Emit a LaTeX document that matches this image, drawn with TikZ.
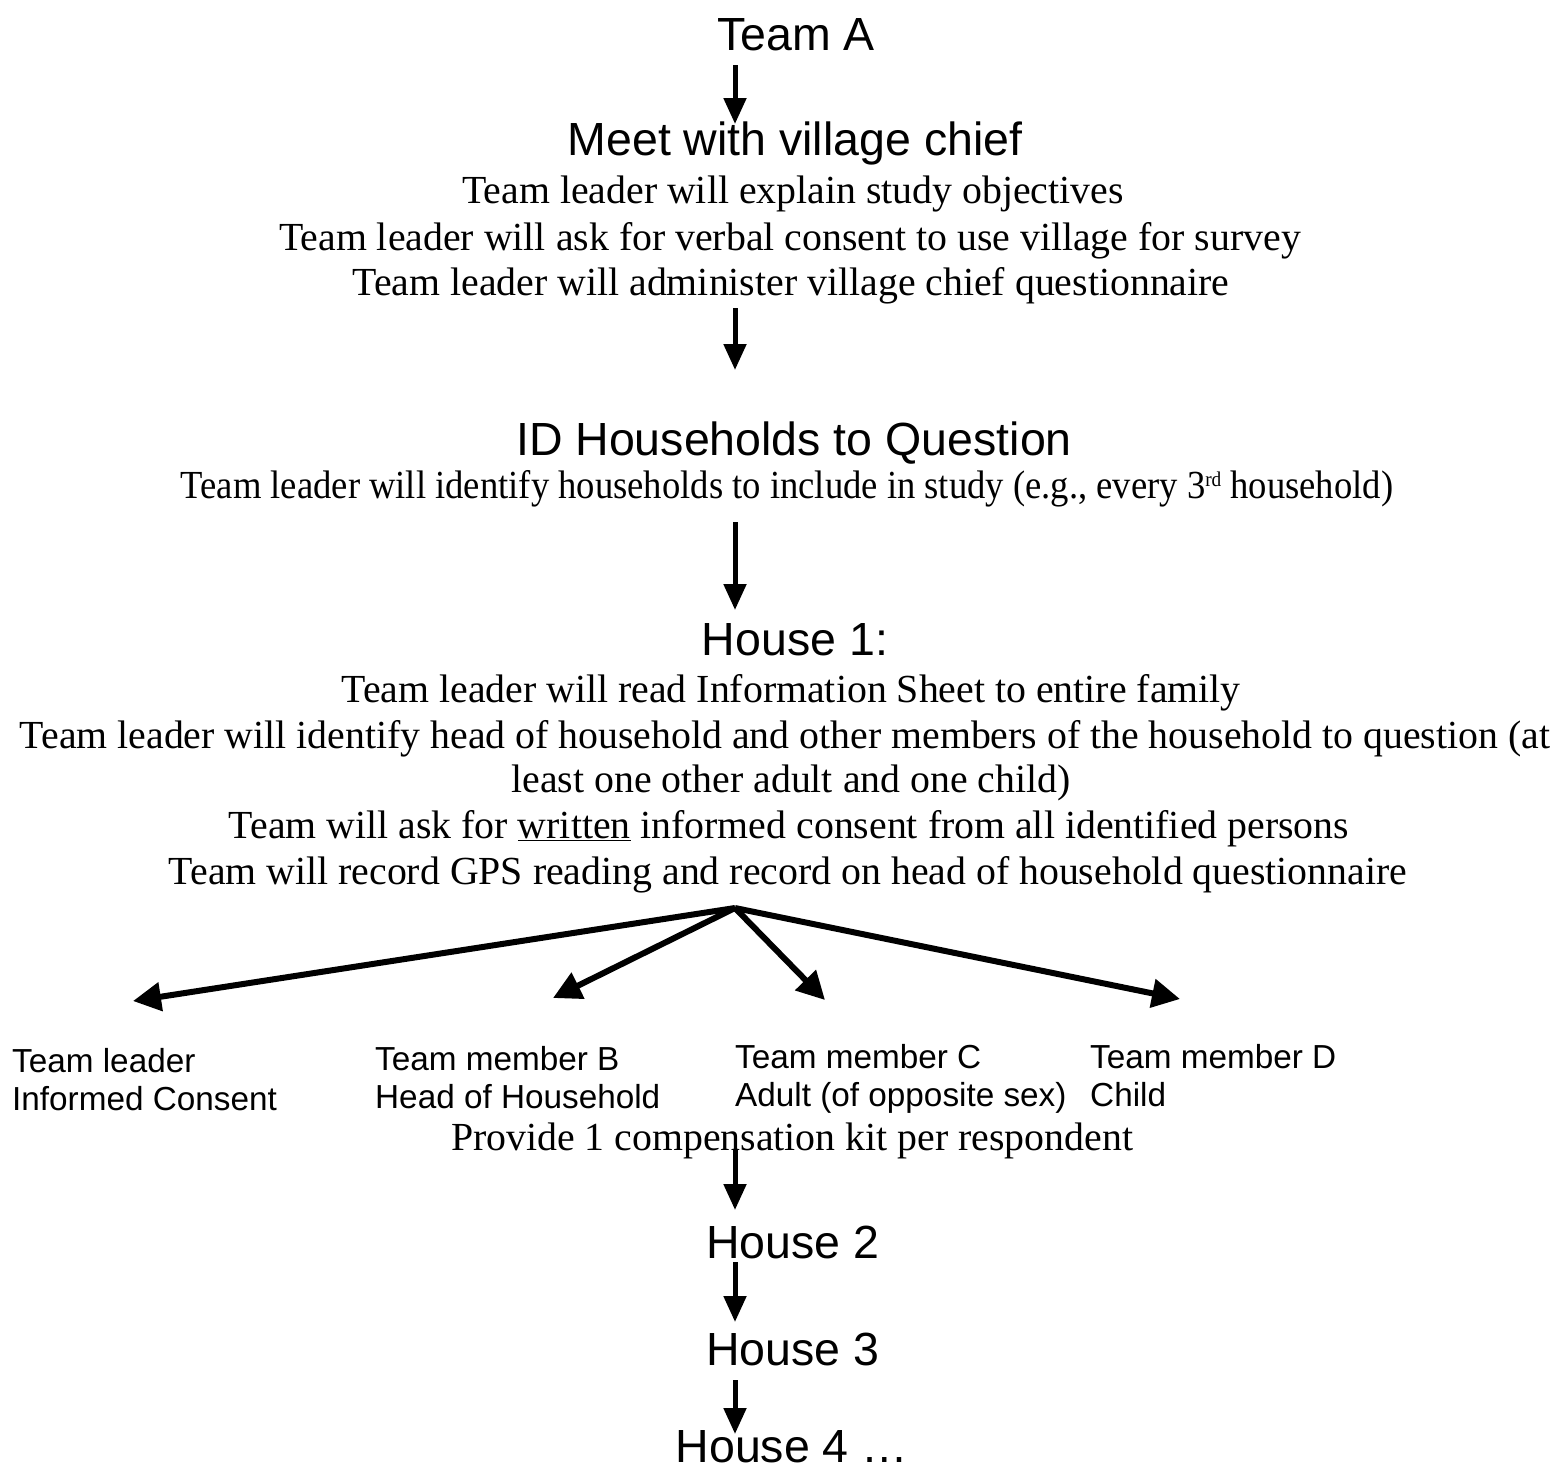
\documentclass[tikz,border=0pt]{standalone}
\usepackage{fontspec}
\setmainfont{Liberation Serif}
\newfontfamily\arialf{Liberation Sans}
\usetikzlibrary{arrows.meta}

\begin{document}
\begin{tikzpicture}[x=1pt,y=-1pt,
  head/.style={font=\arialf\fontsize{46.5}{50}\selectfont, anchor=base, inner sep=0pt},
  body/.style={font=\fontsize{39.8}{46}\selectfont, anchor=base, inner sep=0pt},
  member/.style={font=\arialf\fontsize{33.3}{38}\selectfont, anchor=base west, inner sep=0pt},
  flow/.style={line width=5pt, -{Triangle[length=26pt,width=22pt]}},
  branch/.style={line width=6pt, -{Triangle[length=28pt,width=28pt]}}]
\useasboundingbox (0,0) rectangle (1565,1473);

% headings and step descriptions
\node[head] (teamA) at (796,50) {Team A};
\node[head] (meet) at (795,155) {Meet with village chief};
\node[body] (m1) at (793,203) {Team leader will explain study objectives};
\node[body] (m2) at (790,250) {Team leader will ask for verbal consent to use village for survey};
\node[body] (m3) at (791,295) {Team leader will administer village chief questionnaire};

\node[head] (idh) at (794,455) {ID Households to Question};
\node[body] (i1) at (787,498) {\scalebox{0.92}[1]{Team leader will identify households to include in study (e.g., every 3\raisebox{12pt}{\fontsize{21}{22}\selectfont rd} household)}};

\node[head] (h1) at (795,655) {House 1:};
\node[body] (h1a) at (791,702) {Team leader will read Information Sheet to entire family};
\node[body] (h1b) at (785,748) {Team leader will identify head of household and other members of the household to question (at};
\node[body] (h1c) at (791,792) {least one other adult and one child)};
\node[body] (h1d) at (789,838) {Team will ask for \underline{written} informed consent from all identified persons};
\node[body] (h1e) at (788,884) {Team will record GPS reading and record on head of household questionnaire};

% respondents
\node[member] (tl1) at (12,1072) {Team leader};
\node[member] (tl2) at (12,1110) {Informed Consent};
\node[member] (tb1) at (375,1070) {Team member B};
\node[member] (tb2) at (375,1108) {Head of Household};
\node[member] (tc1) at (735,1068) {Team member C};
\node[member] (tc2) at (735,1106) {Adult (of opposite sex)};
\node[member] (td1) at (1090,1068) {Team member D};
\node[member] (td2) at (1090,1106) {Child};

\node[body] (kit) at (792,1150) {Provide 1 compensation kit per respondent};

\node[head] (h2) at (793,1258) {House 2};
\node[head] (h3) at (793,1365) {House 3};
\node[head] (h4) at (792,1462) {House 4 \dots};

% arrow end points
\coordinate (a1s) at (735,65);   \coordinate (a1e) at (735,124);
\coordinate (a2s) at (735,308);  \coordinate (a2e) at (735,370);
\coordinate (a3s) at (735,522);  \coordinate (a3e) at (735,610);
\coordinate (fork) at (735,908);
\coordinate (bA) at (133,1001);
\coordinate (bB) at (553,998);
\coordinate (bC) at (825,1000);
\coordinate (bD) at (1180,999);
\coordinate (a4s) at (735,1150); \coordinate (a4e) at (735,1210);
\coordinate (a5s) at (735,1262); \coordinate (a5e) at (735,1322);
\coordinate (a6s) at (735,1380); \coordinate (a6e) at (735,1434);

\draw[flow] (a1s) -- (a1e);
\draw[flow] (a2s) -- (a2e);
\draw[flow] (a3s) -- (a3e);
\draw[branch] (fork) -- (bA);
\draw[branch] (fork) -- (bB);
\draw[branch] (fork) -- (bC);
\draw[branch] (fork) -- (bD);
\draw[flow] (a4s) -- (a4e);
\draw[flow] (a5s) -- (a5e);
\draw[flow] (a6s) -- (a6e);
\end{tikzpicture}
\end{document}
